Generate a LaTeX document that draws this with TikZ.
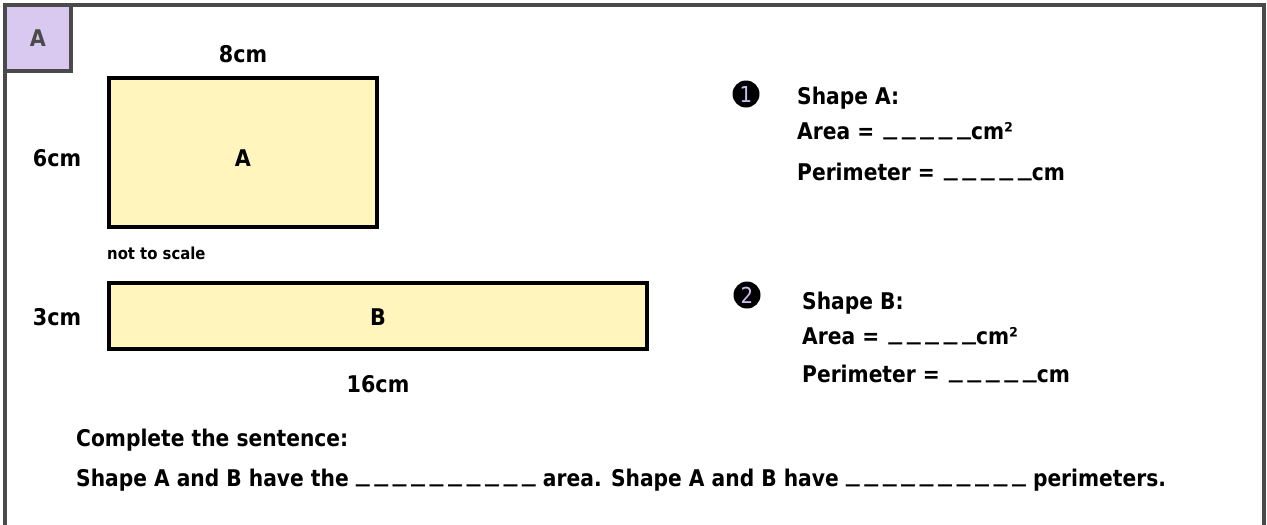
\documentclass[tikz,border=0pt]{standalone}
\usepackage{fontspec}
\setmainfont{DejaVu Sans}[FakeStretch=0.88]
\newfontfamily\widefont{DejaVu Sans}[FakeStretch=0.9]
\newcommand\dashglyph{\raisebox{4.5pt}{\scalebox{1.38}[1]{\_}}}
\newcommand\us{\dashglyph\kern4.5pt}
\newcommand\blankfive{\us\us\us\us\dashglyph}
\newcommand\blankten{\us\us\us\us\us\us\us\us\us\dashglyph}
\definecolor{framegray}{HTML}{4A4A4A}
\definecolor{tabfill}{HTML}{D9C8F0}
\definecolor{shapefill}{HTML}{FFF5BD}
\definecolor{digitcol}{HTML}{CBBBF2}
\tikzset{
  lbl/.style={font=\fontsize{23}{27}\selectfont\bfseries, inner sep=0pt, text=black},
  dim/.style={font=\widefont\fontsize{23}{27}\selectfont\bfseries, inner sep=0pt, text=black},
  small/.style={font=\widefont\fontsize{16.5}{19}\selectfont\bfseries, inner sep=0pt, text=black},
  shapebox/.style={draw=black, line width=4pt, fill=shapefill},
  numcirc/.style={circle, fill=black, minimum size=27pt, inner sep=0pt, text=digitcol, font=\widefont\fontsize{22}{24}\selectfont},
}
\begin{document}
\begin{tikzpicture}[x=1pt,y=-1pt]
\useasboundingbox (0,0) rectangle (1267,525);
\fill[white] (0,0) rectangle (1267,525);
% frame
\draw[framegray, line width=4pt] (5,530) -- (5,5) -- (1264,5) -- (1264,530);
% tab
\draw[framegray, line width=4pt, fill=tabfill] (5,5) rectangle (70.5,70.5);
\node[dim, text=framegray, anchor=base] (tab) at (38,46) {A};
% shape A
\draw[shapebox] (109,78) rectangle (377,227);
\node[dim, anchor=base] (la) at (243,166) {A};
\node[dim, anchor=base] (w8) at (243,62) {8cm};
\node[dim, anchor=base] (h6) at (57,166) {6cm};
\node[small, anchor=base west] (nts) at (107,259) {not to scale};
% shape B
\draw[shapebox] (109,283) rectangle (647,349);
\node[dim, anchor=base] (lb) at (378,325) {B};
\node[dim, anchor=base] (h3) at (57,325) {3cm};
\node[dim, anchor=base] (w16) at (378,392) {16cm};
% questions
\node[numcirc] (c1) at (746,94) {1};
\node[lbl, anchor=base west] (qa1) at (797,104) {Shape A:};
\node[lbl, anchor=base west] (qa2) at (797,139) {Area =\hspace{2pt} \blankfive cm²};
\node[lbl, anchor=base west] (qa3) at (797,180) {Perimeter =\hspace{2pt} \blankfive cm};
\node[numcirc] (c2) at (747,295) {2};
\node[lbl, anchor=base west] (qb1) at (802,309) {Shape B:};
\node[lbl, anchor=base west] (qb2) at (802,344) {Area =\hspace{2pt} \blankfive cm²};
\node[lbl, anchor=base west] (qb3) at (802,382) {Perimeter =\hspace{2pt} \blankfive cm};
% sentence
\node[lbl, anchor=base west] (cs) at (76,446) {Complete the sentence:};
\node[lbl, anchor=base west] (sent) at (76,486) {Shape A and B have the \blankten{} area. Shape A and B have \blankten{} perimeters.};
\end{tikzpicture}
\end{document}
